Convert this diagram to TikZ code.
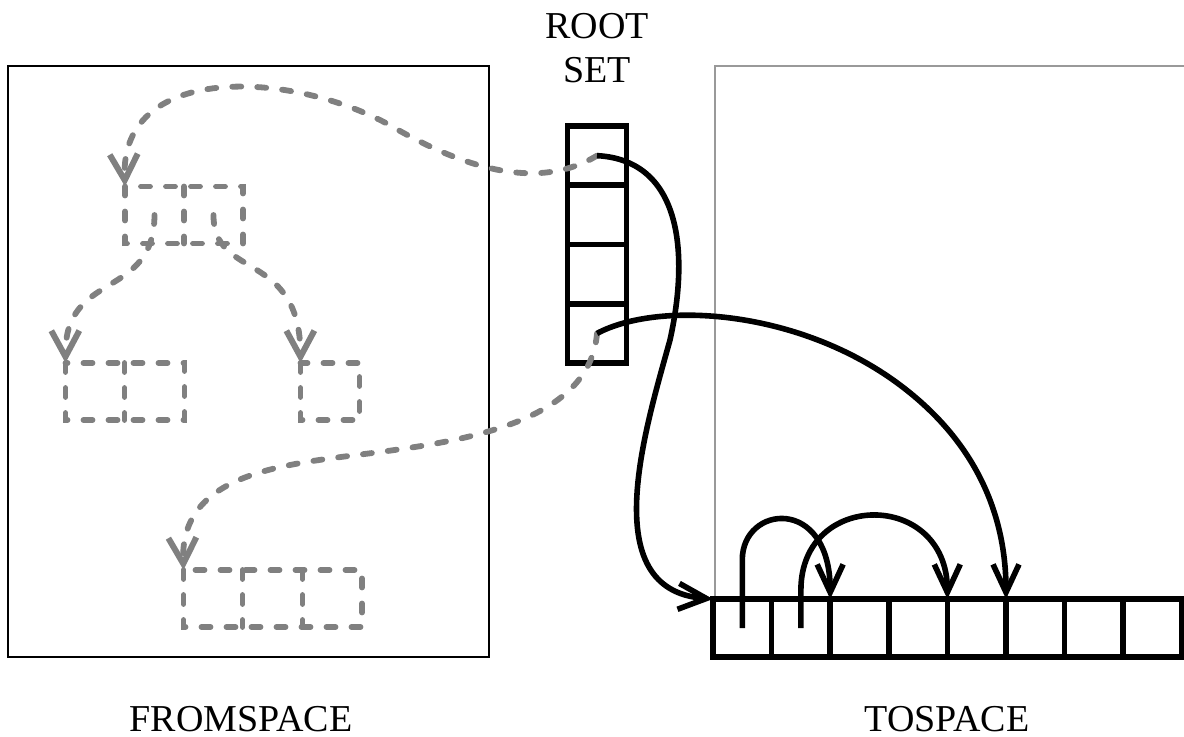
\documentclass[tikz,border=0pt]{standalone}
\usepackage{fontspec}
\setmainfont{Liberation Serif}
\usetikzlibrary{arrows.meta}

\begin{document}
\begin{tikzpicture}[x=.5pt, y=-.5pt,
	rootcell/.style={draw, line width=2.8pt, minimum width=29.5pt, minimum height=29.6pt, inner sep=0, outer sep=0},
	tocell/.style={draw, line width=2.8pt, minimum width=29.3pt, minimum height=29pt, inner sep=0, outer sep=0},
	fromcell/.style={minimum width=29.5pt, minimum height=28.5pt, inner sep=0, outer sep=0},
	graydash/.style={draw=black!50, line width=2.9pt, line cap=round, dash pattern=on 4.5pt off 8pt},
	graytip/.style={-{Straight Barb[length=13pt, width=14pt, line width=3pt]}},
	blackarrow/.style={line width=2.8pt, -{Straight Barb[length=14pt, width=13pt]}},
	spacelabel/.style={inner sep=0, align=center, font=\fontsize{19pt}{22pt}\selectfont}
]
	\useasboundingbox (0,0) rectangle (1184,737);

	% spaces
	\draw[line width=1pt] (8,66) rectangle (489,657);
	\draw[draw=black!40, line width=.7pt] (715,598) -- (715,66) -- (1184,66);

	% root set
	\foreach \i in {1, ..., 4} {
		\node[rootcell] (r\i) at (597, 96.4 + 59.25 * \i) {};
	}

	% tospace cells
	\foreach \i in {1, ..., 8} {
		\node[tocell] (t\i) at (683.7 + 58.6 * \i, 628) {};
	}

	% fromspace cells
	\foreach \name/\x/\y in {a1/154.5/215, a2/213.5/215, b1/95/391.5, b2/155/391.5,
		c1/330/391.5, d1/213/598.5, d2/273/598.5, d3/332.5/598.5} {
		\node[fromcell] (\name) at (\x, \y) {};
	}
	\draw[graydash] (a1.north west) rectangle (a2.south east);
	\draw[graydash] (a1.north east) -- (a1.south east);
	\draw[graydash] (b1.north west) rectangle (b2.south east);
	\draw[graydash] (b1.north east) -- (b1.south east);
	\draw[graydash] (c1.north west) rectangle (c1.south east);
	\draw[graydash] (d1.north west) rectangle (d3.south east);
	\draw[graydash] (d1.north east) -- (d1.south east);
	\draw[graydash] (d2.north east) -- (d2.south east);

	% old pointers
	\draw[graydash, graytip] (r1.center) .. controls (540,190) and (470,170) .. (400,131)
		.. controls (300,70) and (120,60) .. (a1.north west);
	\draw[graydash, graytip] (r4.center) .. controls (590,420) and (470,440) .. (380,452)
		.. controls (290,464) and (180,470) .. (d1.north west);
	\draw[graydash, graytip] (a1.center) .. controls (154,300) and (65,270) .. (b1.north west);
	\draw[graydash, graytip] (a2.center) .. controls (213,280) and (300,250) .. (c1.north west);

	% copied pointers
	\draw[blackarrow] (r1.center) .. controls (680,160) and (690,250) .. (670,340)
		.. controls (645,430) and (595,590) .. (t1.north west);
	\draw[blackarrow] (r4.center) .. controls (660,300) and (800,310) .. (900,385)
		.. controls (980,445) and (1006,520) .. (t6.north west);
	\draw[blackarrow] (t1.center) -- (742.3,560) .. controls (742,505) and (830,495) .. (t3.north west);
	\draw[blackarrow] (t2.center) -- (800.9,590) .. controls (801,490) and (947,490) .. (t5.north west);

	% labels
	\node[spacelabel] (rootname) at (597,48) {ROOT\\SET};
	\node[spacelabel] (fromname) at (241,719) {FROMSPACE};
	\node[spacelabel] (toname) at (947,719) {TOSPACE};
\end{tikzpicture}
\end{document}
